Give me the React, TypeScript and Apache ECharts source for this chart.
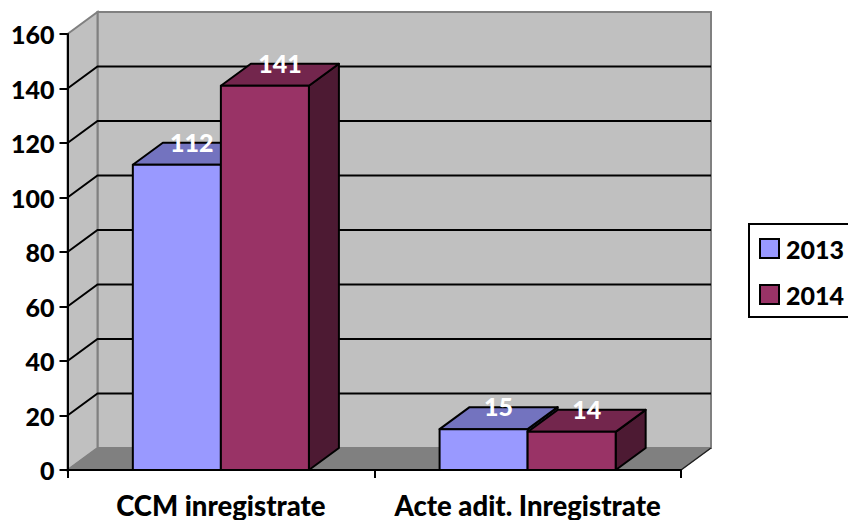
import React, { useEffect, useRef } from "react";
import * as echarts from "echarts";

const categories = ["CCM inregistrate", "Acte adit. Inregistrate"];
const values2013 = [112, 15];
const values2014 = [141, 14];
const gridTicks = [20, 40, 60, 80, 100, 120, 140];
const seriesNames = ["2013", "2014"];

const DEPTH_X = 30;
const DEPTH_Y = 22;
const FONT = "Lato";
const WEIGHT = 900;

const palette = [
  { front: "#9999FF", top: "#7373BF", side: "#5C5C99" },
  { front: "#993366", top: "#73264D", side: "#4D1A33" },
];

function renderWalls(params: any, api: any) {
  const c = params.coordSys;
  const l = c.x, r = c.x + c.width, t = c.y, b = c.y + c.height;
  const children: any[] = [];
  children.push({
    type: "polygon",
    shape: { points: [[l + DEPTH_X, t - DEPTH_Y], [r + DEPTH_X, t - DEPTH_Y], [r + DEPTH_X, b - DEPTH_Y], [l + DEPTH_X, b - DEPTH_Y]] },
    style: { fill: "#C0C0C0", stroke: "#808080", lineWidth: 2 },
  });
  children.push({
    type: "polygon",
    shape: { points: [[l, t], [l + DEPTH_X, t - DEPTH_Y], [l + DEPTH_X, b - DEPTH_Y], [l, b]] },
    style: { fill: "#C0C0C0", stroke: "#808080", lineWidth: 2 },
  });
  children.push({
    type: "polygon",
    shape: { points: [[l, b], [r, b], [r + DEPTH_X, b - DEPTH_Y], [l + DEPTH_X, b - DEPTH_Y]] },
    style: { fill: "#808080", stroke: "#808080", lineWidth: 1 },
  });
  children.push({
    type: "line",
    shape: { x1: r, y1: b, x2: r + DEPTH_X, y2: b - DEPTH_Y },
    style: { stroke: "#202020", lineWidth: 1.5 },
  });
  gridTicks.forEach((v) => {
    const y = api.coord([0, v])[1];
    children.push({
      type: "polyline",
      shape: { points: [[l, y], [l + DEPTH_X, y - DEPTH_Y], [r + DEPTH_X, y - DEPTH_Y]] },
      style: { fill: "none", stroke: "#000", lineWidth: 2 },
    });
  });
  return { type: "group", children };
}

function renderBar(params: any, api: any) {
  const idx = params.seriesIndex - 1;
  const colors = palette[idx];
  const cat = api.value(0);
  const val = api.value(1);
  const top = api.coord([cat, val]);
  const base = api.coord([cat, 0]);
  const band = api.size([1, 0])[0];
  const w = band * 0.287;
  const x0 = top[0] + (idx === 0 ? -w : 0);
  const x1 = x0 + w;
  const y0 = top[1];
  const y1 = base[1];
  const edge = { stroke: "#000", lineWidth: 2, lineJoin: "round" };
  return {
    type: "group",
    children: [
      {
        type: "polygon",
        shape: { points: [[x1, y0], [x1 + DEPTH_X, y0 - DEPTH_Y], [x1 + DEPTH_X, y1 - DEPTH_Y], [x1, y1]] },
        style: { fill: colors.side, ...edge },
      },
      {
        type: "polygon",
        shape: { points: [[x0, y0], [x0 + DEPTH_X, y0 - DEPTH_Y], [x1 + DEPTH_X, y0 - DEPTH_Y], [x1, y0]] },
        style: { fill: colors.top, ...edge },
      },
      {
        type: "rect",
        shape: { x: x0, y: y0, width: w, height: y1 - y0 },
        style: { fill: colors.front, ...edge },
      },
      {
        type: "text",
        style: {
          text: String(val),
          x: (x0 + x1) / 2 + DEPTH_X / 2,
          y: y0 - DEPTH_Y - 1,
          fill: "#fff",
          font: `${WEIGHT} 25px ${FONT}`,
          align: "center",
          verticalAlign: "middle",
        },
      },
    ],
  };
}

export default function App() {
  const ref = useRef<HTMLDivElement>(null);
  useEffect(() => {
    const chart = echarts.init(ref.current!, undefined, { renderer: "svg" });
    chart.setOption({
      animation: false,
      backgroundColor: "#fff",
      color: [palette[0].front, palette[1].front],
      textStyle: { fontFamily: FONT },
      grid: { left: 67.5, top: 34, width: 613.5, height: 436 },
      legend: {
        left: 749,
        top: 224,
        orient: "vertical",
        data: seriesNames,
        icon: "rect",
        itemWidth: 19,
        itemHeight: 19,
        itemGap: 21,
        padding: [12, 12, 10, 10],
        borderColor: "#000",
        borderWidth: 2,
        selectedMode: false,
        itemStyle: { borderColor: "#000", borderWidth: 2 },
        textStyle: { color: "#000", fontFamily: FONT, fontWeight: WEIGHT, fontSize: 25, padding: [0, 0, 0, 2] },
      },
      xAxis: {
        type: "category",
        data: categories,
        z: 10,
        axisLine: { lineStyle: { color: "#000", width: 2 } },
        axisTick: { show: true, length: 8, lineStyle: { color: "#000", width: 2 } },
        axisLabel: { color: "#000", fontFamily: FONT, fontWeight: WEIGHT, fontSize: 27.5, margin: 21, interval: 0 },
        splitLine: { show: false },
      },
      yAxis: {
        type: "value",
        min: 0,
        max: 160,
        interval: 20,
        z: 10,
        axisLine: { show: true, lineStyle: { color: "#000", width: 2 } },
        axisTick: { show: true, length: 8, lineStyle: { color: "#000", width: 2 } },
        axisLabel: { color: "#000", fontFamily: FONT, fontWeight: WEIGHT, fontSize: 25, margin: 13 },
        splitLine: { show: false },
      },
      series: [
        {
          type: "custom",
          name: "walls",
          silent: true,
          z: 1,
          renderItem: renderWalls,
          encode: { x: 0, y: 1 },
          data: [[0, 0]],
        },
        {
          type: "custom",
          name: seriesNames[0],
          z: 2,
          renderItem: renderBar,
          encode: { x: 0, y: 1 },
          itemStyle: { color: palette[0].front },
          data: values2013.map((v, i) => [i, v]),
        },
        {
          type: "custom",
          name: seriesNames[1],
          z: 3,
          renderItem: renderBar,
          encode: { x: 0, y: 1 },
          itemStyle: { color: palette[1].front },
          data: values2014.map((v, i) => [i, v]),
        },
      ],
    });
    return () => chart.dispose();
  }, []);
  return <div ref={ref} style={{ position: "fixed", left: 0, top: 0, width: 848, height: 520 }} />;
}
